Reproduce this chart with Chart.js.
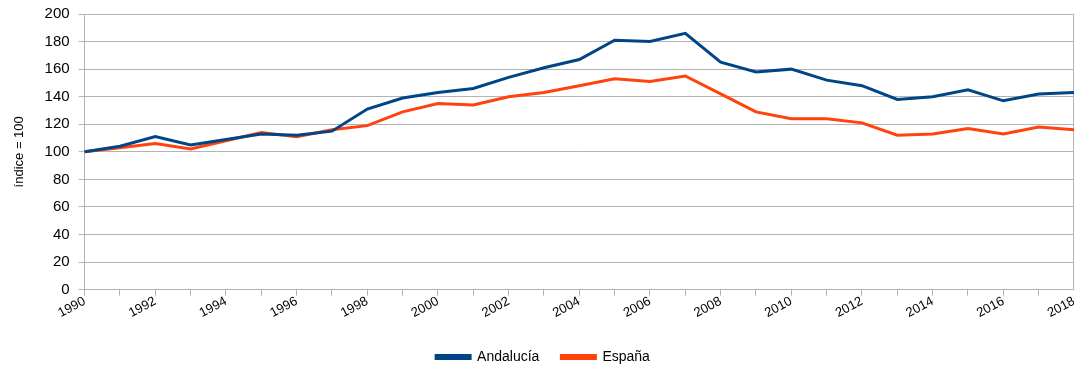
<!DOCTYPE html>
<html>
<head>
<meta charset="utf-8">
<script src="https://cdn.jsdelivr.net/npm/chart.js@4/dist/chart.umd.min.js"></script>
<style>
  html, body { margin: 0; padding: 0; background: #fff; }
  #wrap { width: 1074px; height: 374px; position: relative; }
</style>
</head>
<body>
<div id="wrap"><canvas id="chart"></canvas></div>
<script>
// years on the x axis
const years = [
  1990, 1991, 1992, 1993, 1994, 1995, 1996, 1997, 1998, 1999,
  2000, 2001, 2002, 2003, 2004, 2005, 2006, 2007, 2008, 2009,
  2010, 2011, 2012, 2013, 2014, 2015, 2016, 2017, 2018
];

// índice (1990 = 100)
const andalucia = [
  100, 104, 111, 105, 109, 113, 112, 115, 131, 139,
  143, 146, 154, 161, 167, 181, 180, 186, 165, 158,
  160, 152, 148, 138, 140, 145, 137, 142, 143
];
const espana = [
  100, 103, 106, 102, 108, 114, 111, 116, 119, 129,
  135, 134, 140, 143, 148, 153, 151, 155, 142, 129,
  124, 124, 121, 112, 113, 117, 113, 118, 116
];

const yTicks = [0, 20, 40, 60, 80, 100, 120, 140, 160, 180, 200];

const BLUE = '#004586';
const ORANGE = '#ff420e';
const GRID = '#b3b3b3';
const FONT = '"Liberation Sans", Arial, sans-serif';

// right edge of the plot frame
const rightBorder = {
  id: 'rightBorder',
  beforeDatasetsDraw(chart) {
    const { ctx, chartArea } = chart;
    ctx.save();
    ctx.strokeStyle = GRID;
    ctx.lineWidth = 1;
    ctx.beginPath();
    ctx.moveTo(Math.round(chartArea.right) - 0.5, chartArea.top);
    ctx.lineTo(Math.round(chartArea.right) - 0.5, chartArea.bottom);
    ctx.stroke();
    ctx.restore();
  }
};

new Chart(document.getElementById('chart'), {
  type: 'line',
  data: {
    labels: years.map(String),
    datasets: [
      {
        label: 'Andalucía',
        data: andalucia,
        borderColor: BLUE,
        backgroundColor: BLUE,
        borderWidth: 3,
        pointRadius: 0,
        tension: 0,
      },
      {
        label: 'España',
        data: espana,
        borderColor: ORANGE,
        backgroundColor: ORANGE,
        borderWidth: 3,
        pointRadius: 0,
        tension: 0,
      }
    ]
  },
  options: {
    responsive: true,
    maintainAspectRatio: false,
    animation: false,
    layout: { padding: { top: 14, right: 0, left: 12, bottom: 0 } },
    scales: {
      x: {
        offset: false,
        grid: { drawOnChartArea: false, color: GRID, tickLength: 6 },
        border: { color: GRID },
        ticks: {
          autoSkip: false,
          maxRotation: 28,
          minRotation: 28,
          color: '#000',
          font: { family: FONT, size: 13 },
          padding: -2,
          callback: function(value, i) {
            return years[i] % 2 === 0 ? String(years[i]) : '';
          }
        },
        afterFit: scale => {
          scale.height += 9;
          scale.paddingRight = 0;
        }
      },
      y: {
        min: 0,
        max: 200,
        afterBuildTicks: axis => { axis.ticks = yTicks.map(v => ({ value: v })); },
        afterFit: scale => {
          scale.width += 3;
          scale.paddingTop = 0;
          scale.paddingBottom = 0;
        },
        grid: { color: GRID, tickLength: 6 },
        border: { color: GRID },
        ticks: {
          color: '#000',
          font: { family: FONT, size: 15 },
          padding: 9,
        },
        title: {
          display: true,
          text: 'índice = 100',
          color: '#000',
          font: { family: FONT, size: 13 },
          padding: { top: 0, bottom: 5 }
        }
      }
    },
    plugins: {
      legend: {
        position: 'bottom',
        labels: {
          color: '#000',
          boxWidth: 34,
          boxHeight: 3,
          padding: 22,
          font: { family: FONT, size: 14 },
        }
      },
      tooltip: { enabled: false }
    }
  },
  plugins: [rightBorder]
});
</script>
</body>
</html>
